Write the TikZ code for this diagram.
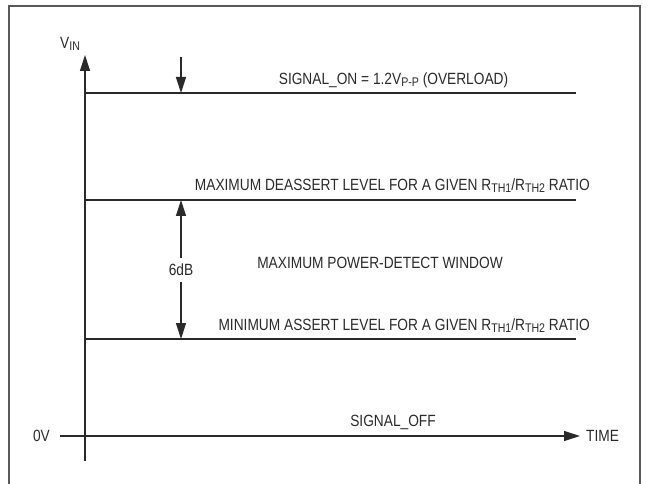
\documentclass[tikz,border=0pt]{standalone}
\usepackage{fontspec}
\setmainfont{Liberation Sans}[FakeStretch=0.845]
\usetikzlibrary{arrows.meta}
\definecolor{ink}{HTML}{2A2A2A}
\newcommand{\sbs}[1]{\raisebox{-2bp}{\fontsize{12.6}{12}\selectfont #1}}
\begin{document}
\begin{tikzpicture}[x=1bp,y=-1bp,
  lbl/.style={inner sep=0pt,text=ink,font=\fontsize{16.3}{16}\selectfont},
  ln/.style={draw=ink,line width=1.2bp},
  tip/.style={-{Triangle[length=16bp,width=10bp]}}]
\useasboundingbox (0,0) rectangle (650,484);
\draw[draw=gray!70!black,line width=2bp] (9,484) -- (9,6) -- (640,6) -- (640,484);
% axes
\coordinate (ybot) at (85,461);
\coordinate (ytop) at (85,55);
\coordinate (xl) at (60,436);
\coordinate (xr) at (580,436);
\draw[ln,tip] (ybot) -- (ytop);
\draw[ln,tip] (xl) -- (xr);
\node[lbl,anchor=base west] (vin) at (60,49) {V\sbs{IN}};
\node[lbl,anchor=east] (zero) at (50,436) {0V};
\node[lbl,anchor=west] (time) at (586,436) {TIME};
% levels
\coordinate (a1) at (85,93);  \coordinate (b1) at (576,93);
\coordinate (a2) at (85,200); \coordinate (b2) at (576,200);
\coordinate (a3) at (85,339); \coordinate (b3) at (576,339);
\draw[ln] (a1) -- (b1);
\draw[ln] (a2) -- (b2);
\draw[ln] (a3) -- (b3);
\node[lbl,anchor=base] (on) at (393.5,85) {SIGNAL\_ON = 1.2V\sbs{P-P} (OVERLOAD)};
\node[lbl,anchor=base east] (deas) at (590,190.5) {MAXIMUM DEASSERT LEVEL FOR A GIVEN R\sbs{TH1}/R\sbs{TH2} RATIO};
\node[lbl,anchor=base] (win) at (380,268) {MAXIMUM POWER-DETECT WINDOW};
\node[lbl,anchor=base east] (ass) at (590,330) {MINIMUM ASSERT LEVEL FOR A GIVEN R\sbs{TH1}/R\sbs{TH2} RATIO};
\node[lbl,anchor=base] (off) at (393,426) {SIGNAL\_OFF};
% arrows
\coordinate (d0) at (181,57);
\coordinate (d1) at (181,93);
\draw[ln,tip] (d0) -- (d1);
\coordinate (m0) at (181,200);
\coordinate (m1) at (181,339);
\node[lbl,fill=white,inner ysep=6bp,inner xsep=2bp] (db) at (181,270) {6dB};
\draw[ln,tip] (db) -- (m0);
\draw[ln,tip] (db) -- (m1);
\end{tikzpicture}
\end{document}
